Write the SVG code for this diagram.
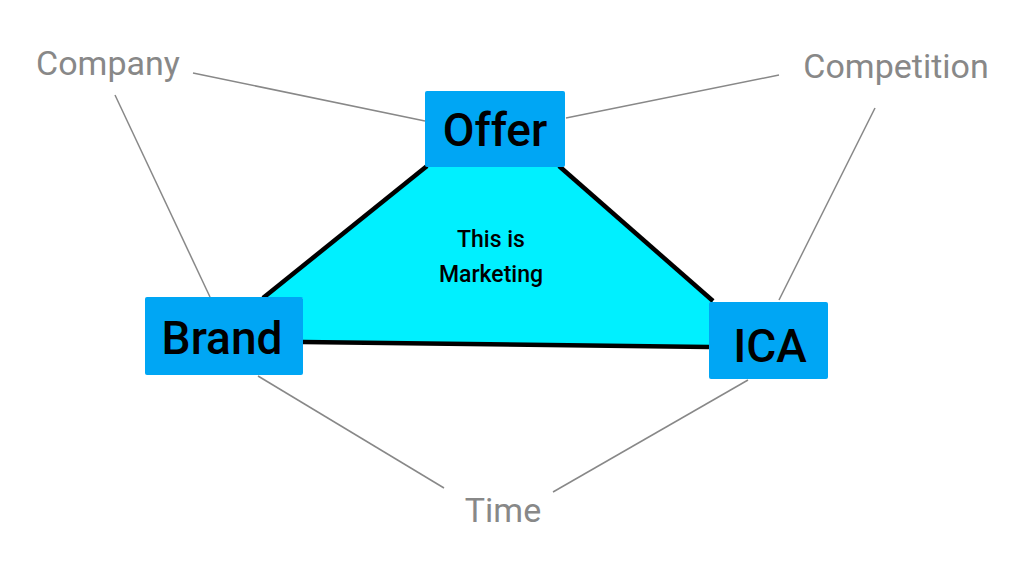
<svg xmlns="http://www.w3.org/2000/svg" width="1024" height="566" viewBox="0 0 1024 566">
<style>
.box{fill:#00a6f4}
.big{font-family:Roboto,"Liberation Sans",sans-serif;font-size:46px;font-weight:500;fill:#000;text-anchor:middle}
.lbl{font-family:Roboto,"Liberation Sans",sans-serif;font-size:34px;fill:#888;text-anchor:middle}
.gl{stroke:#888;stroke-width:1.5;fill:none}
.in{font-family:Roboto,"Liberation Sans",sans-serif;font-size:23px;font-weight:500;text-anchor:middle}
</style>
<rect width="1024" height="566" fill="#fff"/>
<g id="connectors">
<line class="gl" x1="193" y1="73" x2="425" y2="121"/>
<line class="gl" x1="115" y1="95" x2="210" y2="297"/>
<line class="gl" x1="779" y1="75" x2="566" y2="118"/>
<line class="gl" x1="875" y1="108" x2="779" y2="300"/>
<line class="gl" x1="258" y1="376" x2="444" y2="488"/>
<line class="gl" x1="748" y1="380" x2="553" y2="492"/>
</g>
<g id="triangle">
<polygon points="427,166 559,166 713,301 713,348 303,342 303,298 263,298" fill="#00f0ff"/>
<polyline points="263,298 427,166" stroke="#000" stroke-width="4.5" fill="none"/>
<polyline points="559,166 713,301" stroke="#000" stroke-width="4.5" fill="none"/>
<polyline points="303,342 709,347" stroke="#000" stroke-width="4.5" fill="none"/>
<text class="in" x="491" y="247">This is</text>
<text class="in" x="491" y="282">Marketing</text>
</g>
<g id="offer"><rect class="box" x="425" y="91" width="140" height="76" rx="2"/><text class="big" x="495" y="146">Offer</text></g>
<g id="brand"><rect class="box" x="145" y="297" width="158" height="78" rx="2"/><text class="big" x="222" y="354">Brand</text></g>
<g id="ica"><rect class="box" x="709" y="302" width="119" height="77" rx="2"/><text class="big" x="770" y="362">ICA</text></g>
<g id="company"><text class="lbl" x="108" y="75">Company</text></g>
<g id="competition"><text class="lbl" x="896" y="78">Competition</text></g>
<g id="time"><text class="lbl" x="503" y="522">Time</text></g>
</svg>
